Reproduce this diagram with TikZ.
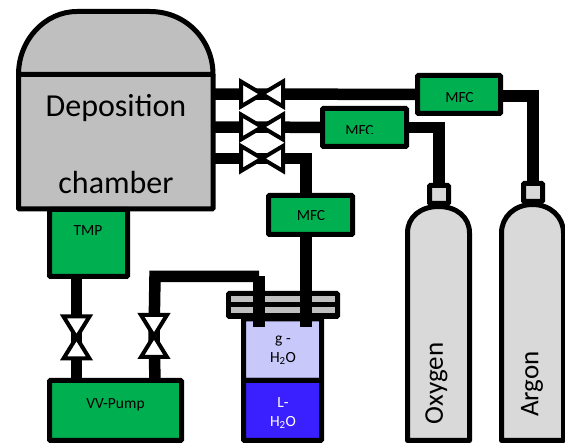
\documentclass[tikz,border=0pt]{standalone}
\usepackage{fontspec}
\setmainfont{Carlito}
\usetikzlibrary{backgrounds}
\definecolor{pumpgreen}{HTML}{00B050}
\definecolor{chambergray}{HTML}{BFBFBF}
\definecolor{bottlegray}{HTML}{D9D9D9}
\definecolor{vapourblue}{HTML}{C8C8FA}
\definecolor{liquidblue}{HTML}{3A1FFF}
\begin{document}
\begin{tikzpicture}[
    x=1pt, y=-1pt,
    pipe/.style={draw, line width=11.5pt},
    solid box/.style 2 args={rectangle, draw, line width=5pt, rounded corners=0.8pt,
        inner sep=0pt, outer sep=0pt, minimum width=#1pt, minimum height=#2pt},
    mfc/.style 2 args={solid box={#1}{#2}, fill=pumpgreen},
    stripe/.style={rectangle, fill=chambergray, inner sep=0pt, minimum width=104pt, minimum height=6pt},
    valve/.style={draw, line width=4pt, fill=white, miter limit=10},
    vessel/.style={draw, line width=5pt, line join=round},
    tag/.style={font=\fontsize{15.5}{18}\selectfont, inner sep=0pt, align=center},
    bigtag/.style={font=\fontsize{32}{36}\selectfont, inner sep=0pt},
    gastag/.style={font=\fontsize{27}{30}\selectfont, inner sep=0pt, rotate=90}
]
\useasboundingbox (0,0) rectangle (565,443);

\node (Chamber) [solid box={194.5}{134.5}, fill=chambergray] at (115.75,141.75) {};
\node (Tmp) [mfc={78}{67}] at (88.5,243) {};
\node (Pump) [mfc={132}{60}] at (115.5,410.5) {};
\node (MfcA) [mfc={83}{38}] at (459,94.5) {};
\node (MfcB) [mfc={84}{38}] at (364.5,127.5) {};
\node (MfcC) [mfc={84}{39}] at (310.5,215) {};
\node (Vapour) [solid box={78}{61.5}, fill=vapourblue] at (282.5,349.75) {};
\node (Liquid) [solid box={78}{60}, fill=liquidblue] at (282.5,410.5) {};
\node (Lid) [solid box={109}{23}, fill=black] at (283,305) {};
\node (StripeA) [stripe] at (283,299) {};
\node (StripeB) [stripe] at (283,310) {};
\node (NeckOx) [solid box={19}{18}, fill=bottlegray] at (439,194.5) {};
\node (NeckAr) [solid box={19}{18}, fill=bottlegray] at (533,192.5) {};

\coordinate (ValveA) at (262,94);
\coordinate (ValveB) at (262,127);
\coordinate (ValveC) at (262,158.5);
\coordinate (ValveD) at (76.5,337.5);
\coordinate (ValveE) at (154,336);
\coordinate (TubeA) at (259,327);
\coordinate (TubeB) at (306,327);
\coordinate (TubeC) at (155,276.5);

\draw[vessel, fill=chambergray] (Chamber.north west) .. controls (18.5,40) and (45,11.5) .. (77,11.5)
    -- (150,11.5) .. controls (186,11.5) and (213,40) .. (Chamber.north east) -- cycle;

\foreach \name/\xpos/\ypos in {Ox/407.5/206.5, Ar/501.5/204.5} {
  \draw[vessel, fill=bottlegray] (\xpos,440.5) -- (\xpos,233)
      .. controls (\xpos,217) and (\xpos+13,\ypos) .. (\xpos+31,\ypos)
      .. controls (\xpos+49,\ypos) and (\xpos+62,217) .. (\xpos+62,233)
      -- (\xpos+62,440.5) -- cycle;
}

\draw[pipe] (TubeA) -- (TubeA |- TubeC);
\draw[pipe] (TubeB |- MfcC.south) -- (TubeB);

\begin{scope}[on background layer]
  \draw[pipe] (Chamber.east |- ValveA) -- (MfcA.center);
  \draw[pipe] (Chamber.east |- ValveB) -- (MfcB.center);
  \draw[pipe] (Chamber.east |- ValveC) -| (TubeB |- MfcC.north);
  \draw[pipe] ([yshift=-1.5pt]MfcA.center) -| (NeckAr.north);
  \draw[pipe] (MfcB.center) -| (NeckOx.north);
  \draw[pipe] (TubeA |- TubeC) -- (TubeC) -- (ValveE);
  \draw[pipe] (ValveE) -- (TubeC |- Pump.north);
  \draw[pipe] (ValveD |- Tmp.south) -- (ValveD) -- (ValveD |- Pump.north);
\end{scope}

\foreach \name in {ValveA, ValveB, ValveC} {
  \draw[valve] ([shift={(-21,-12.5)}]\name) -- ([shift={(21,12.5)}]\name)
      -- ([shift={(21,-12.5)}]\name) -- ([shift={(-21,12.5)}]\name) -- cycle;
}
\foreach \name in {ValveD, ValveE} {
  \draw[valve] ([shift={(-13,-21)}]\name) -- ([shift={(13,21)}]\name)
      -- ([shift={(-13,21)}]\name) -- ([shift={(13,-21)}]\name) -- cycle;
}

\node (ChamberTop) [bigtag] at (116,108) {Deposition};
\node (ChamberLow) [bigtag] at (116,183) {chamber};
\node (TmpTag) [tag] at (88,231) {TMP};
\node (PumpTag) [tag] at (115.5,405) {VV-Pump};
\node (MfcCTag) [tag] at (311,216) {MFC};
\begin{scope}
  \clip (0,0) rectangle (565,102);
  \node (MfcATag) [tag] at (459.5,98) {MFC};
\end{scope}
\begin{scope}
  \clip (0,0) rectangle (565,134);
  \node (MfcBTag) [tag] at (359.5,131) {MFC};
\end{scope}
\node (VapourTag) [tag] at (283,350) {g -\\[1pt]H\textsubscript{2}O};
\node (LiquidTag) [tag, text=white] at (283,413) {L-\\[1pt]H\textsubscript{2}O};
\node (OxygenTag) [gastag] at (436.5,383.5) {Oxygen};
\node (ArgonTag) [gastag] at (532,384) {Argon};
\end{tikzpicture}
\end{document}
